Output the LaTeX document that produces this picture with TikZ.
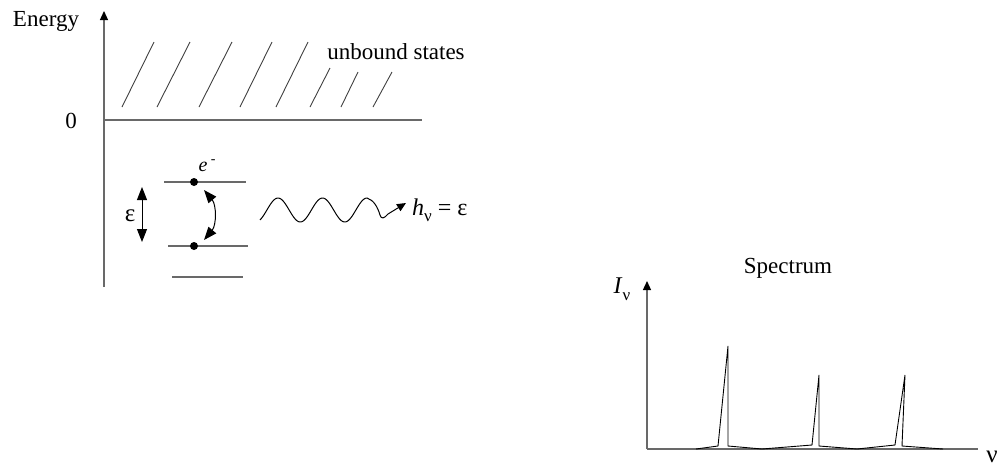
\documentclass[tikz,border=0pt]{standalone}
\usepackage{fontspec}
\setmainfont{Liberation Serif}
\usetikzlibrary{arrows.meta}
\definecolor{axisgray}{RGB}{105,105,105}
\tikzset{
  axisline/.style={draw=axisgray, line width=1.3pt},
  hatchline/.style={draw=black!75, line width=0.9pt},
  levelline/.style={draw=axisgray, line width=1.2pt},
  tip/.style={-{Triangle[length=9pt,width=8pt,color=black]}},
  twotip/.style={{Triangle[length=13pt,width=10pt]}-{Triangle[length=13pt,width=10pt]}},
  lbl/.style={inner sep=0pt, font=\fontsize{23}{26}\selectfont},
  specline/.style={draw=black, line width=0.9pt, line join=miter},
  electron/.style={circle, fill=black, inner sep=0pt, minimum size=8pt}
}
\begin{document}
\begin{tikzpicture}[x=1pt,y=-1pt]
\path[use as bounding box] (0,0) rectangle (997,467);
% Energy diagram
\coordinate (ebot) at (104,287);
\coordinate (etop) at (104,11);
\draw[axisline, tip] (ebot) -- (etop);
\node[lbl] (energy) at (46,21) {Energy};
\coordinate (z0) at (104,120);
\coordinate (z1) at (422,120);
\draw[axisline] (z0) -- (z1);
\node[lbl] (zero) at (71,121) {0};
% hatch
\foreach \a/\b/\c/\d in {122/107/154/42, 157/107/190/42, 199/107/232/42, 240/107/272/42, 276/107/308/42, 310/107/330/68, 341/107/358/72, 373/107/392/72}
  \draw[hatchline] (\a,\b) -- (\c,\d);
\node[lbl] (unbound) at (396,52) {unbound states};
% levels
\draw[levelline] (164,182) -- (246,182);
\draw[levelline] (168,246) -- (248,246);
\draw[levelline] (172,277) -- (243,277);
\node[electron] (d1) at (194,182) {};
\node[electron] (d2) at (194,246) {};
\node[lbl, font=\fontsize{20}{22}\selectfont] (el) at (207,166) {\textit{e}\,\raisebox{0.4em}{\fontsize{14}{16}\selectfont -}};
% epsilon arrow
\coordinate (ea) at (142,187);
\coordinate (eb) at (142,242);
\draw[line width=1pt, twotip] (ea) -- (eb);
\node[lbl, font=\fontsize{25}{28}\selectfont] (eps) at (130,216) {ε};
% curved transition
\coordinate (ca) at (204,190);
\coordinate (cb) at (204,240);
\draw[line width=1pt, twotip] (ca) to[bend left=40] (cb);
% photon
\coordinate (wend) at (406,203);
\draw[line width=1pt, tip] plot[domain=260:367, samples=80, smooth] (\x, {210-12*sin((\x-266.9)*8.0899)})
  .. controls (374,200) and (378,208) .. (380,215)
  .. controls (381,219) and (384,219) .. (388,214)
  -- (wend);
\node[lbl, anchor=west, font=\fontsize{24}{27}\selectfont] (hnu) at (412,210) {\textit{h}\raisebox{-0.25em}{\fontsize{17}{19}\selectfont ν} = ε};
% Spectrum
\node[lbl] (spectrum) at (788,268) {Spectrum};
\coordinate (sorig) at (647,449);
\coordinate (stop) at (647,281);
\coordinate (send) at (978,449);
\draw[axisline, tip] (sorig) -- (stop);
\draw[axisline] (sorig) -- (send);
\node[lbl, font=\fontsize{24}{27}\selectfont] (Inu) at (622,289) {\textit{I}\raisebox{-0.3em}{\fontsize{17}{19}\selectfont ν}};
\node[lbl, font=\fontsize{25}{28}\selectfont] (nu) at (992,457) {ν};
\draw[specline] (696,449) -- (718,446) -- (728,346) -- (728,446) -- (762,449) -- (812,445) -- (819,375) -- (819,446) -- (857,449) -- (895,445) -- (905,375) -- (902,446) -- (943,449);
\end{tikzpicture}
\end{document}
